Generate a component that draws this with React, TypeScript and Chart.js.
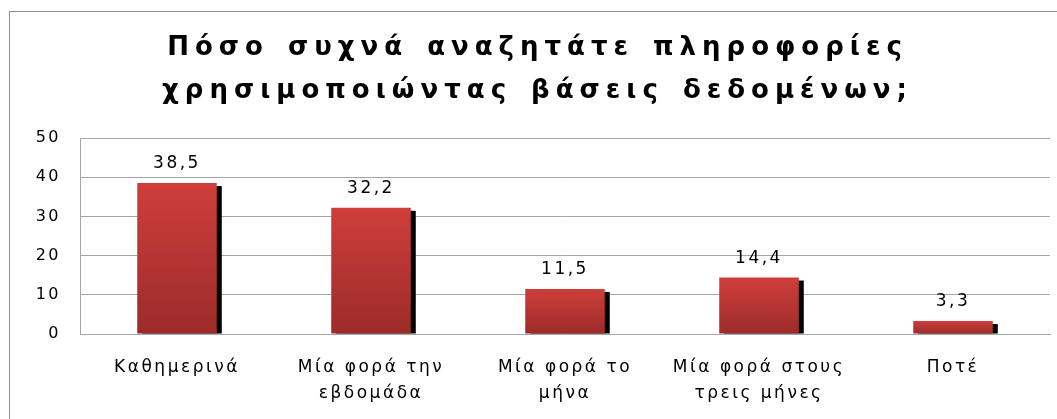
import React, { useEffect, useRef } from "react";
import { Chart, registerables } from "chart.js";

Chart.register(...registerables);

const TITLE_LINES = ["Πόσο συχνά αναζητάτε πληροφορίες", "χρησιμοποιώντας βάσεις δεδομένων;"];
const CATEGORIES = [
  ["Καθημερινά"],
  ["Μία φορά την", "εβδομάδα"],
  ["Μία φορά το", "μήνα"],
  ["Μία φορά στους", "τρεις μήνες"],
  ["Ποτέ"],
];
const VALUES = [38.5, 32.2, 11.5, 14.4, 3.3];
const Y_MIN = 0;
const Y_MAX = 50;
const Y_STEP = 10;

const FONT = "'DejaVu Sans', sans-serif";
const GRID = "#a6a6a6";
const SPACING = "2.5px";

const fmt = (v: number) => v.toFixed(1).replace(".", ",");

const spacingPlugin = {
  id: "spacing",
  beforeUpdate(chart: any) {
    chart.ctx.letterSpacing = SPACING;
  },
  beforeDraw(chart: any) {
    const ctx = chart.ctx;
    ctx.letterSpacing = SPACING;
    ctx.save();
    ctx.strokeStyle = "#8e8e8e";
    ctx.lineWidth = 1;
    ctx.strokeRect(9.5, 11.5, chart.width + 50, chart.height + 50);
    ctx.restore();
  },
};

const shadowPlugin = {
  id: "barShadow",
  beforeDatasetsDraw(chart: any) {
    const ctx = chart.ctx;
    const meta = chart.getDatasetMeta(0);
    ctx.save();
    ctx.fillStyle = "#000";
    meta.data.forEach((bar: any) => {
      const { x, y, width, base } = bar.getProps(["x", "y", "width", "base"], true);
      ctx.fillRect(x - width / 2 + 5, y + 3, width, base - y - 3);
    });
    ctx.restore();
  },
  afterDatasetsDraw(chart: any) {
    const ctx = chart.ctx;
    const meta = chart.getDatasetMeta(0);
    ctx.save();
    ctx.fillStyle = "#000";
    ctx.font = `17px ${FONT}`;
    ctx.letterSpacing = SPACING;
    ctx.textAlign = "center";
    ctx.textBaseline = "alphabetic";
    meta.data.forEach((bar: any, i: number) => {
      const { x, y } = bar.getProps(["x", "y"], true);
      ctx.fillText(fmt(VALUES[i]), x, y - 15);
    });
    ctx.restore();
  },
};

const titlePlugin = {
  id: "spacedTitle",
  afterDraw(chart: any) {
    const ctx = chart.ctx;
    ctx.save();
    ctx.fillStyle = "#000";
    ctx.font = `bold 26px ${FONT}`;
    ctx.letterSpacing = "6px";
    ctx.wordSpacing = "4px";
    ctx.textAlign = "center";
    ctx.textBaseline = "alphabetic";
    const cx = chart.width / 2 + 9;
    ctx.fillText(TITLE_LINES[0], cx, 55);
    ctx.fillText(TITLE_LINES[1], cx, 98);
    ctx.restore();
  },
};

export default function App() {
  const ref = useRef<HTMLCanvasElement | null>(null);

  useEffect(() => {
    if (!ref.current) return;
    const chart = new Chart(ref.current, {
      type: "bar",
      data: {
        labels: CATEGORIES,
        datasets: [
          {
            data: VALUES,
            backgroundColor: (c: any) => {
              const chart = c.chart;
              const ys = chart.scales?.y;
              if (!ys || c.parsed == null) return "#c03836";
              const top = ys.getPixelForValue(c.parsed.y);
              const bot = ys.getPixelForValue(0);
              if (!isFinite(top) || !isFinite(bot) || top === bot) return "#c03836";
              const g = chart.ctx.createLinearGradient(0, top, 0, bot);
              g.addColorStop(0, "#cf3e3b");
              g.addColorStop(1, "#9b2b2a");
              return g;
            },
            borderWidth: 0,
            barPercentage: 0.41,
            categoryPercentage: 1,
          },
        ],
      },
      options: {
        animation: false,
        responsive: true,
        maintainAspectRatio: false,
        layout: { padding: { top: 138, right: 7, left: 0, bottom: 0 } },
        plugins: {
          legend: { display: false },
          title: { display: false },
          tooltip: { enabled: false },
        },
        scales: {
          x: {
            grid: { display: false, drawTicks: false },
            border: { display: true, color: GRID },
            ticks: {
              color: "#000",
              font: { family: FONT, size: 17, lineHeight: 1.55 },
              padding: 20,
              maxRotation: 0,
              autoSkip: false,
            },
            afterFit: (s: any) => {
              s.height = 85;
            },
          },
          y: {
            min: Y_MIN,
            max: Y_MAX,
            grid: { color: GRID, drawTicks: false },
            border: { display: true, color: GRID },
            ticks: {
              stepSize: Y_STEP,
              color: "#000",
              font: { family: FONT, size: 16 },
              padding: 19,
            },
            afterFit: (s: any) => {
              s.width = 80;
            },
          },
        },
      },
      plugins: [spacingPlugin, shadowPlugin, titlePlugin],
    });
    return () => chart.destroy();
  }, []);

  return (
    <div style={{ position: "absolute", left: 0, top: 0, width: 1057, height: 419, background: "#fff" }}>
      <canvas ref={ref} />
    </div>
  );
}
